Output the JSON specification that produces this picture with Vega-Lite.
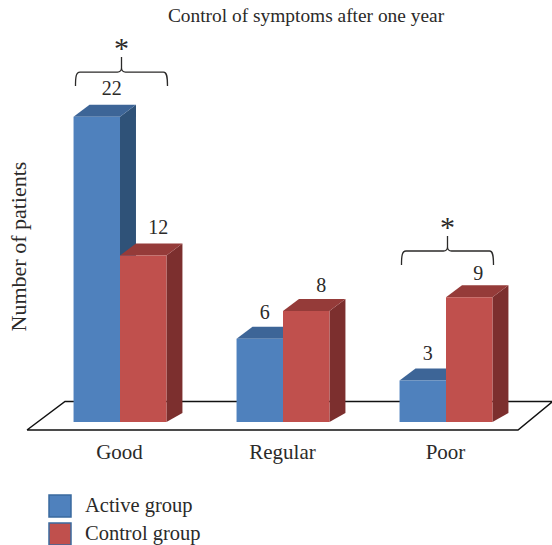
{
"$schema":"https://vega.github.io/schema/vega-lite/v6.json",
"width":552,"height":521,
"autosize":"none",
"padding":{"left":0,"top":24,"right":0,"bottom":0},
"background":"white",
"config":{"view":{"stroke":null},"text":{"font":"Liberation Serif","color":"#2b2a29"}},
"title":{"text":"Control of symptoms after one year","font":"Liberation Serif","fontSize":19.4,"fontWeight":"normal","color":"#2b2a29","anchor":"middle","frame":"group","dx":30,"offset":-2},
"datasets":{
"bars":[
{"group":"Good","series":"Active group","value":22},
{"group":"Good","series":"Control group","value":12},
{"group":"Regular","series":"Active group","value":6},
{"group":"Regular","series":"Control group","value":8},
{"group":"Poor","series":"Active group","value":3},
{"group":"Poor","series":"Control group","value":9}
],
"notes":[{"group":"Good","level":25.23},{"group":"Poor","level":12.33}],
"floor":[{"group":"Regular","level":0}]
},
"data":{"name":"bars"},
"transform":[
{"calculate":"indexof(['Good','Regular','Poor'],datum.group)","as":"idx"},
{"calculate":"datum.idx+(datum.series=='Active group'?-0.285:0)","as":"L"},
{"calculate":"datum.L+0.285","as":"R"},
{"calculate":"0","as":"zero"}
],
"encoding":{
"x":{"field":"x","type":"quantitative","scale":{"domain":[-0.7362,2.6503],"nice":false,"zero":false},
"axis":{"values":[0,1,2],"labelExpr":"['Good','Regular','Poor'][datum.value]","grid":false,"domain":false,"ticks":false,"title":null,"offset":-104,"labelPadding":0,"labelOffset":-1,"labelFont":"Liberation Serif","labelFontSize":21,"labelColor":"#2b2a29","labelAngle":0}},
"y":{"field":"y","type":"quantitative","scale":{"domain":[-8.868,28.695],"nice":false,"zero":false},
"axis":{"labels":false,"grid":false,"domain":false,"ticks":false,"title":"Number of patients","titleFont":"Liberation Serif","titleFontSize":22,"titleFontWeight":"normal","titleColor":"#2b2a29","titleX":25,"titleY":222,"titleAngle":-90,"titleAnchor":"middle","titleBaseline":"alphabetic"}}
},
"layer":[
{"data":{"name":"floor"},
"transform":[{"calculate":"indexof(['Good','Regular','Poor'],datum.group)","as":"x"},{"calculate":"datum.level","as":"y"}],
"mark":{"type":"point","shape":"M-256,8 L-218,-20.5 L275,-20.5 M269,-20 L235,8 L-256,8","size":4,"filled":false,"stroke":"#111111","strokeWidth":1.5,"opacity":1}},
{"transform":[{"filter":"datum.series=='Active group'"},{"calculate":"[0,1]","as":"t"},{"flatten":["t"]},{"calculate":"datum.R+datum.t*0.098","as":"x"},{"calculate":"datum.value+datum.t*0.865","as":"y"},{"calculate":"datum.t*0.65","as":"yb"}],
"mark":{"type":"area","color":"#2F5278","opacity":1},"encoding":{"y":{"field":"y","type":"quantitative","stack":null},"y2":{"field":"yb"},"detail":{"field":"group"}}},
{"transform":[{"filter":"datum.series=='Active group'"},{"calculate":"[0,1,2,3]","as":"t"},{"flatten":["t"]},{"calculate":"[datum.L,datum.L+0.098,datum.R,datum.R+0.098][datum.t]","as":"x"},{"calculate":"datum.value+(datum.t==0?0:0.865)","as":"y"},{"calculate":"datum.value+(datum.t==3?0.865:0)","as":"yb"}],
"mark":{"type":"area","color":"#3D6597","opacity":1},"encoding":{"y":{"field":"y","type":"quantitative","stack":null},"y2":{"field":"yb"},"detail":{"field":"group"}}},
{"transform":[{"filter":"datum.series=='Control group'"},{"calculate":"[0,1]","as":"t"},{"flatten":["t"]},{"calculate":"datum.R+datum.t*0.098","as":"x"},{"calculate":"datum.value+datum.t*0.865","as":"y"},{"calculate":"datum.t*0.65","as":"yb"}],
"mark":{"type":"area","color":"#7C2F2E","opacity":1},"encoding":{"y":{"field":"y","type":"quantitative","stack":null},"y2":{"field":"yb"},"detail":{"field":"group"}}},
{"transform":[{"filter":"datum.series=='Control group'"},{"calculate":"[0,1,2,3]","as":"t"},{"flatten":["t"]},{"calculate":"[datum.L,datum.L+0.098,datum.R,datum.R+0.098][datum.t]","as":"x"},{"calculate":"datum.value+(datum.t==0?0:0.865)","as":"y"},{"calculate":"datum.value+(datum.t==3?0.865:0)","as":"yb"}],
"mark":{"type":"area","color":"#953B39","opacity":1},"encoding":{"y":{"field":"y","type":"quantitative","stack":null},"y2":{"field":"yb"},"detail":{"field":"group"}}},
{"transform":[{"calculate":"datum.L","as":"x"},{"calculate":"datum.value","as":"y"}],
"mark":{"type":"bar","opacity":1},
"encoding":{"x2":{"field":"R"},"y":{"field":"y","type":"quantitative","stack":null},"y2":{"field":"zero"},
"color":{"field":"series","type":"nominal","scale":{"domain":["Active group","Control group"],"range":["#4F81BD","#C0504D"]},
"legend":{"orient":"none","legendX":48,"legendY":470,"title":null,"symbolType":"square","symbolSize":484,"symbolStrokeColor":"#3A6A9E","symbolStrokeWidth":1.5,"symbolOpacity":1,"rowPadding":0,"labelFont":"Liberation Serif","labelFontSize":20.5,"labelColor":"#2b2a29","labelOffset":13,"padding":0,"labelLimit":200}}}},
{"transform":[{"filter":"indexof([22,12],datum.value)>=0"},{"calculate":"(datum.L+datum.R)/2","as":"x"},{"calculate":"datum.value","as":"y"}],
"mark":{"type":"text","fontSize":20,"dx":15,"dy":-28,"baseline":"middle"},"encoding":{"text":{"field":"value","type":"quantitative"}}},
{"transform":[{"filter":"datum.value==8"},{"calculate":"(datum.L+datum.R)/2","as":"x"},{"calculate":"datum.value","as":"y"}],
"mark":{"type":"text","fontSize":20,"dx":15,"dy":-25,"baseline":"middle"},"encoding":{"text":{"field":"value","type":"quantitative"}}},
{"transform":[{"filter":"indexof([6,3],datum.value)>=0"},{"calculate":"(datum.L+datum.R)/2","as":"x"},{"calculate":"datum.value","as":"y"}],
"mark":{"type":"text","fontSize":20,"dx":5,"dy":-26,"baseline":"middle"},"encoding":{"text":{"field":"value","type":"quantitative"}}},
{"transform":[{"filter":"datum.value==9"},{"calculate":"(datum.L+datum.R)/2","as":"x"},{"calculate":"datum.value","as":"y"}],
"mark":{"type":"text","fontSize":20,"dx":9,"dy":-23,"baseline":"middle"},"encoding":{"text":{"field":"value","type":"quantitative"}}},
{"data":{"name":"notes"},
"transform":[{"calculate":"indexof(['Good','Regular','Poor'],datum.group)","as":"x"},{"calculate":"datum.level","as":"y"}],
"mark":{"type":"point","shape":"M-44.5,14 C-44.5,5 -44,0 -40,0 L-2.5,0 C0,0 1.5,-2 1.5,-4 L1.5,-15 M1.5,-4 C1.5,-2 3,0 5.5,0 L43.5,0 C47,0 47.5,5 47.5,14","size":4,"filled":false,"stroke":"#2b2a29","strokeWidth":1.3,"opacity":1}},
{"data":{"name":"notes"},
"transform":[{"calculate":"indexof(['Good','Regular','Poor'],datum.group)","as":"x"},{"calculate":"datum.level","as":"y"},{"calculate":"'*'","as":"star"}],
"mark":{"type":"text","fontSize":30,"dx":1.5,"dy":-23,"baseline":"middle"},"encoding":{"text":{"field":"star","type":"nominal"}}}
]
}
